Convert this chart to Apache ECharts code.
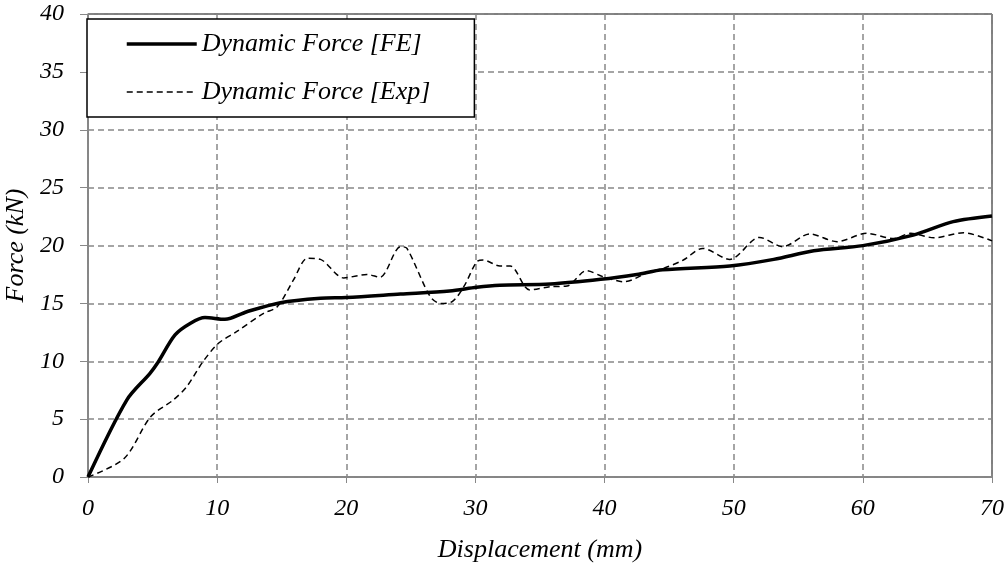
<!DOCTYPE html>
<html>
<head>
<meta charset="utf-8">
<script src="https://cdn.jsdelivr.net/npm/echarts@6/dist/echarts.min.js"></script>
<style>html,body{margin:0;padding:0;background:#fff}#c{width:1007px;height:563px}</style>
</head>
<body>
<div id="c"></div>
<script>
const feX = [0, 3.0, 4.8, 5.45, 6.74, 7.94, 9.06, 10.6, 12.3, 14.9, 18.0, 20.0, 24.2, 28.0, 30.1, 31.9, 35.8, 39.7, 42.5, 44.5, 49.7, 53.1, 56.2, 60.0, 63.9, 67.0, 70.0];
const feY = [0, 6.65, 8.96, 9.96, 12.27, 13.28, 13.77, 13.62, 14.28, 15.06, 15.44, 15.5, 15.8, 16.07, 16.39, 16.56, 16.67, 17.08, 17.5, 17.9, 18.23, 18.8, 19.55, 19.99, 20.9, 22.06, 22.55];
const expX = [0, 2.8, 4.85, 6.6, 7.64, 8.9, 10.1, 11.5, 13.6, 14.65, 15.9, 17.0, 18.0, 19.8, 21.6, 22.6, 24.2, 24.7, 26.5, 27.3, 28.2, 29.1, 30.1, 30.6, 31.9, 32.7, 34.2, 35.8, 37.1, 38.6, 39.9, 41.5, 43.5, 44.5, 46.1, 47.6, 49.7, 52.0, 53.8, 55.9, 58.0, 60.3, 62.4, 63.7, 65.5, 67.8, 70.0];
const expY = [0, 1.6, 5.2, 6.65, 7.8, 9.96, 11.55, 12.55, 14.14, 14.7, 17.0, 18.9, 18.8, 17.2, 17.5, 17.25, 19.9, 19.75, 15.58, 15.0, 15.15, 16.44, 18.6, 18.75, 18.23, 18.23, 16.16, 16.44, 16.5, 17.82, 17.3, 16.87, 17.74, 18.0, 18.75, 19.75, 18.8, 20.7, 19.9, 21.0, 20.33, 21.05, 20.6, 21.05, 20.67, 21.1, 20.4];
const seriesNames = ['Dynamic Force [FE]', 'Dynamic Force [Exp]'];
const xTitle = 'Displacement (mm)';
const yTitle = 'Force (kN)';

const zip = (a, b) => a.map((v, i) => [v, b[i]]);
const font = 'Liberation Serif';
const noSym = {color: 'rgba(0,0,0,0)', borderWidth: 0};
const chart = echarts.init(document.getElementById('c'), null, {renderer: 'canvas'});
chart.setOption({
  animation: false,
  backgroundColor: '#fff',
  grid: {left: 88, right: 15, top: 14, bottom: 86, show: true, borderColor: '#000', borderWidth: 1,
         backgroundColor: 'transparent', containLabel: false, outerBoundsMode: 'none'},
  legend: {
    left: 87, top: 19, orient: 'vertical',
    padding: [12, 44, 12, 38], itemGap: 22, itemWidth: 70, itemHeight: 27,
    backgroundColor: '#fff', borderColor: '#000', borderWidth: 1.5,
    itemStyle: noSym,
    textStyle: {fontFamily: font, fontStyle: 'italic', fontSize: 26, color: '#000'},
    data: [
      {name: seriesNames[0], itemStyle: noSym, lineStyle: {color: '#000', width: 3.5, type: 'solid'}},
      {name: seriesNames[1], itemStyle: noSym, lineStyle: {color: '#000', width: 1.5, type: [6, 4]}}
    ]
  },
  xAxis: {
    type: 'value', min: 0, max: 70, interval: 10,
    name: xTitle, nameLocation: 'middle', nameGap: 60,
    nameTextStyle: {fontFamily: font, fontStyle: 'italic', fontSize: 26, color: '#000'},
    axisLine: {show: true, onZero: false, lineStyle: {color: '#888', width: 1.5}},
    axisTick: {show: true, inside: false, length: 6, lineStyle: {color: '#888'}},
    axisLabel: {fontFamily: font, fontStyle: 'italic', fontSize: 24, color: '#000', margin: 20},
    splitLine: {show: true, lineStyle: {color: '#888', width: 1.5, type: [6, 4]}}
  },
  yAxis: {
    type: 'value', min: 0, max: 40, interval: 5,
    name: yTitle, nameLocation: 'middle', nameGap: 58, nameRotate: 90,
    nameTextStyle: {fontFamily: font, fontStyle: 'italic', fontSize: 26, color: '#000'},
    axisLine: {show: true, lineStyle: {color: '#888', width: 1.5}},
    axisTick: {show: true, inside: false, length: 8, lineStyle: {color: '#888'}},
    axisLabel: {fontFamily: font, fontStyle: 'italic', fontSize: 24, color: '#000', margin: 24},
    splitLine: {show: true, lineStyle: {color: '#888', width: 1.5, type: [6, 4]}}
  },
  series: [
    {name: seriesNames[0], type: 'line', data: zip(feX, feY), symbol: 'none', smooth: 0.3,
     lineStyle: {color: '#000', width: 3.5}, itemStyle: {color: '#000'}, z: 3},
    {name: seriesNames[1], type: 'line', data: zip(expX, expY), symbol: 'none', smooth: 0.3,
     lineStyle: {color: '#000', width: 1.5, type: [6, 4]}, itemStyle: {color: '#000'}, z: 2}
  ]
});
</script>
</body>
</html>
